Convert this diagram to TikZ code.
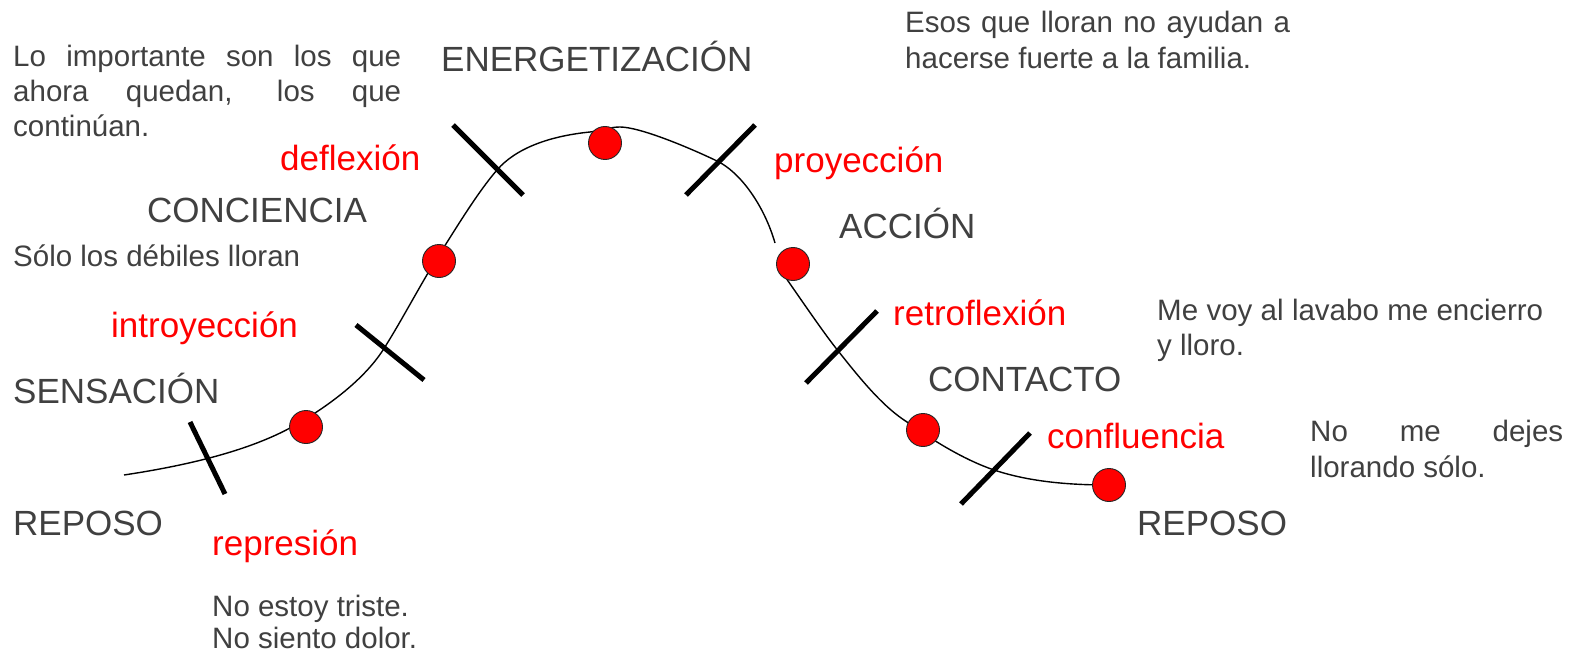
\documentclass[tikz,border=0pt]{standalone}
\usepackage{fontspec}
\setmainfont{Liberation Sans}
\definecolor{txt}{RGB}{64,64,64}
\begin{document}
\begin{tikzpicture}[x=1pt,y=-1pt,
  lbl/.style={font=\fontsize{35}{40}\selectfont, text=txt, inner sep=0pt, anchor=base west},
  redlbl/.style={lbl, text=red},
  note/.style={font=\fontsize{29.5}{35}\selectfont, text=txt, inner sep=0pt, anchor=base west},
  tickline/.style={line width=5pt, black},
  curveline/.style={line width=1.4pt, black},
  dotnode/.style={circle, fill=red, draw=black!85, line width=0.9pt, minimum size=33pt, inner sep=0pt}]
\useasboundingbox (0,0) rectangle (1586,655);

% curve
\coordinate (c0) at (124,475);
\coordinate (c1) at (290,428);
\coordinate (c2) at (383,350);
\coordinate (c3) at (439,255);
\coordinate (c4) at (497,170);
\coordinate (c5) at (590,132);
\coordinate (c6) at (620,127);
\coordinate (c7) at (717,161);
\coordinate (c8) at (775,243);
\draw[curveline] (c0) .. controls (170,468) and (240,455) .. (c1)
  .. controls (330,406) and (365,378) .. (c2)
  .. controls (401,322) and (420,285) .. (c3)
  .. controls (458,225) and (478,192) .. (c4)
  .. controls (516,148) and (550,136) .. (c5)
  .. controls (605,130) and (610,127) .. (c6)
  .. controls (640,127) and (690,148) .. (c7)
  .. controls (740,172) and (764,205) .. (c8);
\coordinate (e0) at (779,268);
\coordinate (e1) at (839,352);
\coordinate (e2) at (907,422);
\coordinate (e3) at (994,470);
\coordinate (e4) at (1109,485);
\draw[curveline] (e0) .. controls (800,298) and (825,335) .. (e1)
  .. controls (865,385) and (885,408) .. (e2)
  .. controls (935,442) and (965,460) .. (e3)
  .. controls (1030,482) and (1070,485) .. (e4);

% tick marks
\coordinate (t1a) at (190,422); \coordinate (t1b) at (225,494);
\coordinate (t2a) at (356,325); \coordinate (t2b) at (424,380);
\coordinate (t3a) at (453,125); \coordinate (t3b) at (523,195);
\coordinate (t4a) at (755,125); \coordinate (t4b) at (686,195);
\coordinate (t5a) at (877,311); \coordinate (t5b) at (806,383);
\coordinate (t6a) at (1030,433); \coordinate (t6b) at (961,504);
\draw[tickline] (t1a) -- (t1b);
\draw[tickline] (t2a) -- (t2b);
\draw[tickline] (t3a) -- (t3b);
\draw[tickline] (t4a) -- (t4b);
\draw[tickline] (t5a) -- (t5b);
\draw[tickline] (t6a) -- (t6b);

% dots
\node[dotnode] (d1) at (306,427) {};
\node[dotnode] (d2) at (439,261) {};
\node[dotnode] (d3) at (605,143) {};
\node[dotnode] (d4) at (793,264) {};
\node[dotnode] (d5) at (923,430) {};
\node[dotnode] (d6) at (1109,485) {};

% stage labels
\node[lbl] (energ) at (441,72) {ENERGETIZACIÓN};
\node[lbl] (conc) at (147,222) {CONCIENCIA};
\node[lbl] (sens) at (13,403) {SENSACIÓN};
\node[lbl] (rep1) at (13,535) {REPOSO};
\node[lbl] (acc) at (839,238) {ACCIÓN};
\node[lbl] (cont) at (928,391) {CONTACTO};
\node[lbl] (rep2) at (1137,535) {REPOSO};

% red labels
\node[redlbl] (defl) at (280,171) {deflexión};
\node[redlbl] (intro) at (111,337) {introyección};
\node[redlbl] (repr) at (212,555) {represión};
\node[redlbl] (proy) at (774,172) {proyección};
\node[redlbl] (retro) at (893,325) {retroflexión};
\node[redlbl] (confl) at (1047,448) {confluencia};

% notes
\node[note] (n1a) at (13,67) {\makebox[388pt][s]{Lo importante son los que}};
\node[note] (n1b) at (13,102) {\makebox[388pt][s]{ahora quedan, los que}};
\node[note] (n1c) at (13,137) {continúan.};
\node[note] (n2) at (13,266) {Sólo los débiles lloran};
\node[note] (n3a) at (212,616) {No estoy triste.};
\node[note] (n3b) at (212,648) {No siento dolor.};
\node[note] (n4a) at (905,33) {\makebox[385pt][s]{Esos que lloran no ayudan a}};
\node[note] (n4b) at (905,69) {hacerse fuerte a la familia.};
\node[note] (n5a) at (1157,320) {\makebox[386pt][s]{Me voy al lavabo me encierro}};
\node[note] (n5b) at (1157,355) {y lloro.};
\node[note] (n6a) at (1310,441) {\makebox[253pt][s]{No me dejes}};
\node[note] (n6b) at (1310,477) {llorando sólo.};
\end{tikzpicture}
\end{document}
